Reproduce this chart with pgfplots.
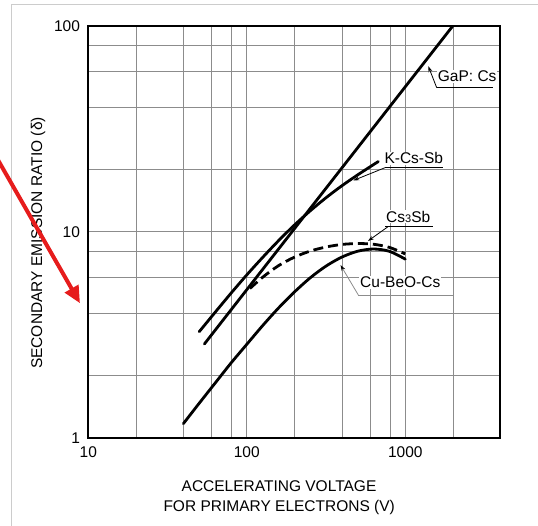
\documentclass[border=0pt]{standalone}
\usepackage{fontspec}
\setmainfont{Liberation Sans}
\usepackage{pgfplots}
\pgfplotsset{compat=1.18}
\usetikzlibrary{arrows.meta}
\definecolor{gridgray}{gray}{0.55}
\definecolor{framegray}{gray}{0.8}
\definecolor{arrowred}{RGB}{230,28,28}
\begin{document}
\fontsize{15.5}{18}\selectfont
\begin{tikzpicture}[x=1pt,y=1pt]
\useasboundingbox (0,0) rectangle (538,526);
\draw[framegray, line width=0.8pt] (11.7,0) -- (11.7,521.7) -- (538,521.7);
\begin{axis}[
  at={(88.3pt,88.3pt)}, anchor=south west,
  scale only axis, width=411.7pt, height=412pt,
  xmode=log, ymode=log,
  xmin=10, xmax=3960, ymin=1, ymax=100,
  xtick={10,100,1000}, ytick={1,10,100},
  xticklabels={10,100,1000}, yticklabels={1,10,100},
  minor xtick={20,40,60,80,200,400,600,800,2000},
  minor ytick={2,4,6,8,20,40,60,80},
  grid=both,
  major grid style={gridgray, line width=0.7pt},
  minor grid style={gridgray, line width=0.7pt},
  major tick length=0pt, minor tick length=0pt,
  axis line style={black, line width=1.8pt},
  /pgf/number format/assume math mode=true,
  tick label style={font=\fontsize{15.5}{18}\selectfont},
  xticklabel style={yshift=-4pt},
  yticklabel style={xshift=-3pt},
]
% GaP: Cs
\addplot[black, line width=2.8pt, line cap=round] coordinates {
  (54,2.85) (2000,100)};
% K-Cs-Sb
\addplot[black, line width=2.8pt, line cap=round, smooth] coordinates {
  (50.1,3.27) (63.1,4.06) (79.4,5.02) (100,6.17) (125.9,7.50) (158.5,9.04)
  (199.5,10.76) (251.2,12.62) (316.2,14.62) (398.1,16.71) (501.2,18.88)
  (631,21.18) (676,21.9)};
% Cs3Sb (dashed)
\addplot[black, line width=2.8pt, dash pattern=on 10pt off 5pt, smooth] coordinates {
  (104.7,5.30) (125.9,6.01) (158.5,6.84) (199.5,7.52) (251.2,8.05) (316.2,8.43)
  (398.1,8.67) (501.2,8.76) (631,8.69) (794,8.39) (1000,7.80)};
% Cu-BeO-Cs
\addplot[black, line width=2.8pt, line cap=round, smooth] coordinates {
  (39.8,1.17) (50.1,1.47) (63.1,1.84) (79.4,2.30) (100,2.84) (125.9,3.50)
  (158.5,4.26) (199.5,5.09) (251.2,5.97) (316.2,6.81) (398.1,7.53)
  (501.2,8.04) (631,8.24) (794.3,8.03) (1000,7.36)};
\end{axis}
% axis titles
\node[anchor=base] at (279,34.8) {ACCELERATING VOLTAGE};
\node[anchor=base] at (279.2,14.8) {FOR PRIMARY ELECTRONS (V)};
\node[rotate=90, anchor=base] at (42.2,283) {SECONDARY EMISSION RATIO (δ)};
% callouts
\node[fill=white, inner sep=1pt, anchor=base west] at (436.7,444.5) {GaP: Cs};
\draw[line width=0.8pt] (436.7,438.3) -- (492.7,438.3);
\draw[line width=0.8pt, -{Stealth[length=6pt,width=4pt]}] (436.7,438.3) -- (428.3,459.8);
\node[fill=white, inner sep=1pt, anchor=base west] at (383.3,362.2) {K-Cs-Sb};
\draw[line width=0.8pt] (385,358.3) -- (443,358.3);
\draw[line width=0.8pt, -{Stealth[length=6pt,width=4pt]}] (385,358.3) -- (353.3,345.5);
\node[fill=white, inner sep=1pt, anchor=base west] at (385,303.8) {Cs{\fontsize{11}{12}\selectfont 3}Sb};
\draw[line width=0.8pt] (385,299.3) -- (433.3,299.3);
\draw[line width=0.8pt, -{Stealth[length=6pt,width=4pt]}] (388,299.3) -- (368,285);
\node[fill=white, inner sep=1pt, anchor=base west] at (359,238) {Cu-BeO-Cs};
\draw[gridgray, line width=0.8pt] (358.3,231) -- (452.7,231);
\draw[gridgray, line width=0.8pt, -{Stealth[length=6pt,width=4pt,black]}] (358.3,231) -- (340.5,261);
% red annotation arrow
\draw[arrowred, line width=4pt, -{Triangle[length=17pt,width=15pt]}] (-2,366) -- (80,222.7);
\end{tikzpicture}
\end{document}
